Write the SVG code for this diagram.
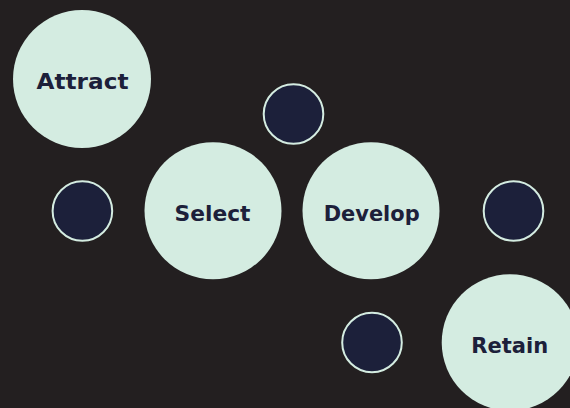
<svg xmlns="http://www.w3.org/2000/svg" width="570" height="408" viewBox="0 0 570 408">
  <style>
    .stage { fill: #d4ece1; }
    .dot { fill: #1c203a; stroke: #d4ece1; stroke-width: 2; }
    .label { font-family: "DejaVu Sans", "Liberation Sans", sans-serif; font-weight: bold; font-size: 22px; fill: #1c203a; text-anchor: middle; }
  </style>
  <rect width="570" height="408" fill="#231f20"/>

  <g id="connectors"></g>

  <g id="stage-attract">
    <circle class="stage" cx="82" cy="79" r="69"/>
    <text class="label" x="82.5" y="89.3" textLength="92" lengthAdjust="spacingAndGlyphs">Attract</text>
  </g>
  <g id="stage-select">
    <circle class="stage" cx="213" cy="210.8" r="68.5"/>
    <text class="label" x="212.5" y="221" textLength="76" lengthAdjust="spacingAndGlyphs">Select</text>
  </g>
  <g id="stage-develop">
    <circle class="stage" cx="371" cy="210.8" r="68.5"/>
    <text class="label" x="371.7" y="221" textLength="96" lengthAdjust="spacingAndGlyphs">Develop</text>
  </g>
  <g id="stage-retain">
    <circle class="stage" cx="510" cy="342.5" r="68.3"/>
    <text class="label" x="509.7" y="353.3" textLength="77" lengthAdjust="spacingAndGlyphs">Retain</text>
  </g>

  <g id="dot-top">
    <circle class="dot" cx="293.5" cy="114" r="29.8"/>
  </g>
  <g id="dot-left">
    <circle class="dot" cx="82.4" cy="211" r="29.8"/>
  </g>
  <g id="dot-right">
    <circle class="dot" cx="513.5" cy="211" r="29.8"/>
  </g>
  <g id="dot-bottom">
    <circle class="dot" cx="372" cy="342.5" r="29.8"/>
  </g>
</svg>
